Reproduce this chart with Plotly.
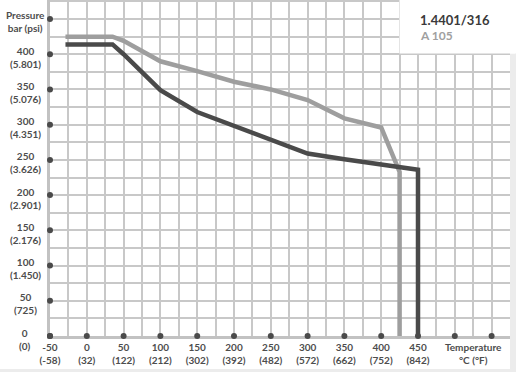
import plotly.graph_objects as go

# Data
temp_316 = [-29, 35, 50, 100, 150, 200, 250, 300, 350, 400, 450, 450]
pres_316 = [414, 414, 400, 349, 318, 298, 279, 259, 251, 244, 236, 0]
temp_a105 = [-29, 35, 50, 100, 150, 200, 250, 300, 350, 400, 425, 425]
pres_a105 = [425, 425, 419, 390, 376, 361, 350, 335, 309, 296, 233, 0]

x_ticks_c = [-50, 0, 50, 100, 150, 200, 250, 300, 350, 400, 450]
x_ticks_f = ["-58", "32", "122", "212", "302", "392", "482", "572", "662", "752", "842"]
x_dots = [-50, 0, 50, 100, 150, 200, 250, 300, 350, 400, 450, 500, 550]
y_ticks_bar = [0, 50, 100, 150, 200, 250, 300, 350, 400]
y_ticks_psi = ["0", "725", "1.450", "2.176", "2.901", "3.626", "4.351", "5.076", "5.801"]
y_dots = [0, 50, 100, 150, 200, 250, 300, 350, 400, 450]

series_names = ["1.4401/316", "A 105"]
DARK = "#4a4a4a"
LIGHT = "#9e9e9e"
TXT = "#4d4d4d"
FONT = "Lato"
GRID = "#c8c8c8"
AXIS = "#c2c2c2"

W, H = 516, 372
L, R, T, B = 50, 6, 0, 36
PW, PH = W - L - R, H - T - B

fig = go.Figure()
fig.add_trace(go.Scatter(x=temp_a105, y=pres_a105, mode="lines",
                         line=dict(color=LIGHT, width=4.5), hoverinfo="skip"))
fig.add_trace(go.Scatter(x=temp_316, y=pres_316, mode="lines",
                         line=dict(color=DARK, width=4.5), hoverinfo="skip"))
fig.add_trace(go.Scatter(x=x_dots, y=[0] * len(x_dots), mode="markers",
                         marker=dict(color=DARK, size=6), cliponaxis=False, hoverinfo="skip"))
fig.add_trace(go.Scatter(x=[-50] * len(y_dots), y=y_dots, mode="markers",
                         marker=dict(color=DARK, size=6), cliponaxis=False, hoverinfo="skip"))

xt = list(range(-50, 576, 25))
xlab = {c: f"{c}<br>({f})" for c, f in zip(x_ticks_c, x_ticks_f)}
xlab[525] = "Temperature<br>°C (°F)"
xtext = [xlab.get(v, "") for v in xt]
yt = list(range(0, 476, 25))

lab_x = (25 - L) / PW
annotations = []
for b, p in zip(y_ticks_bar, y_ticks_psi):
    annotations.append(dict(x=lab_x, y=b, xref="paper", yref="y", text=f"{b}<br>({p})",
                            showarrow=False, xanchor="center", yanchor="middle", yshift=-3,
                            align="center", font=dict(family=FONT, size=10, color=TXT, weight="bold")))
annotations.append(dict(x=lab_x, y=450, xref="paper", yref="y", text="Pressure<br>bar (psi)",
                        showarrow=False, xanchor="center", yanchor="middle", yshift=-2,
                        align="center", font=dict(family=FONT, size=10, color=TXT, weight="bold")))
annotations.append(dict(x=(418 - L) / PW, y=1 - 20 / PH, xref="paper", yref="paper",
                        text=series_names[0], showarrow=False, xanchor="left", yanchor="middle",
                        font=dict(family=FONT, size=13, color="#3a3a3a", weight="bold")))
annotations.append(dict(x=(418 - L) / PW, y=1 - 36 / PH, xref="paper", yref="paper",
                        text=series_names[1], showarrow=False, xanchor="left", yanchor="middle",
                        font=dict(family=FONT, size=12, color="#a0a0a0", weight="bold")))

shapes = [
    dict(type="rect", xref="paper", yref="paper", x0=(399.5 - L) / PW, x1=(515 - L) / PW,
         y0=1 - 53.5 / PH, y1=1.0, fillcolor="white", line=dict(width=0), layer="above"),
    dict(type="rect", xref="paper", yref="paper", x0=(510 - L) / PW, x1=(516 - L) / PW,
         y0=-B / PH, y1=1 - 53.5 / PH, fillcolor="#ececec", line=dict(width=0), layer="below"),
    dict(type="rect", xref="paper", yref="paper", x0=-L / PW, x1=(516 - L) / PW,
         y0=-B / PH, y1=-(B - 3) / PH, fillcolor="#ececec", line=dict(width=0), layer="below"),
]

fig.update_layout(
    width=W, height=H,
    margin=dict(l=L, r=R, t=T, b=B, autoexpand=False),
    paper_bgcolor="white", plot_bgcolor="white",
    showlegend=False,
    font=dict(family=FONT, size=10, color=TXT),
    xaxis=dict(range=[-50, 575], tickmode="array", tickvals=xt, ticktext=xtext,
               showgrid=True, gridcolor=GRID, gridwidth=1.5, zeroline=False,
               showline=True, linecolor=AXIS, linewidth=2.5, ticks="", layer="below traces",
               tickfont=dict(family=FONT, size=10, color=TXT, weight="bold"),
               fixedrange=True, automargin=False),
    yaxis=dict(range=[0, 477], tickmode="array", tickvals=yt, ticktext=[""] * len(yt),
               showgrid=True, gridcolor=GRID, gridwidth=1.5, zeroline=False,
               showline=True, linecolor=AXIS, linewidth=2.5, ticks="", layer="below traces",
               fixedrange=True, automargin=False),
    annotations=annotations,
    shapes=shapes,
)

fig.write_html("out.html", config={"displayModeBar": False},
               post_script="document.body.style.margin='0';document.body.style.overflow='hidden';")
